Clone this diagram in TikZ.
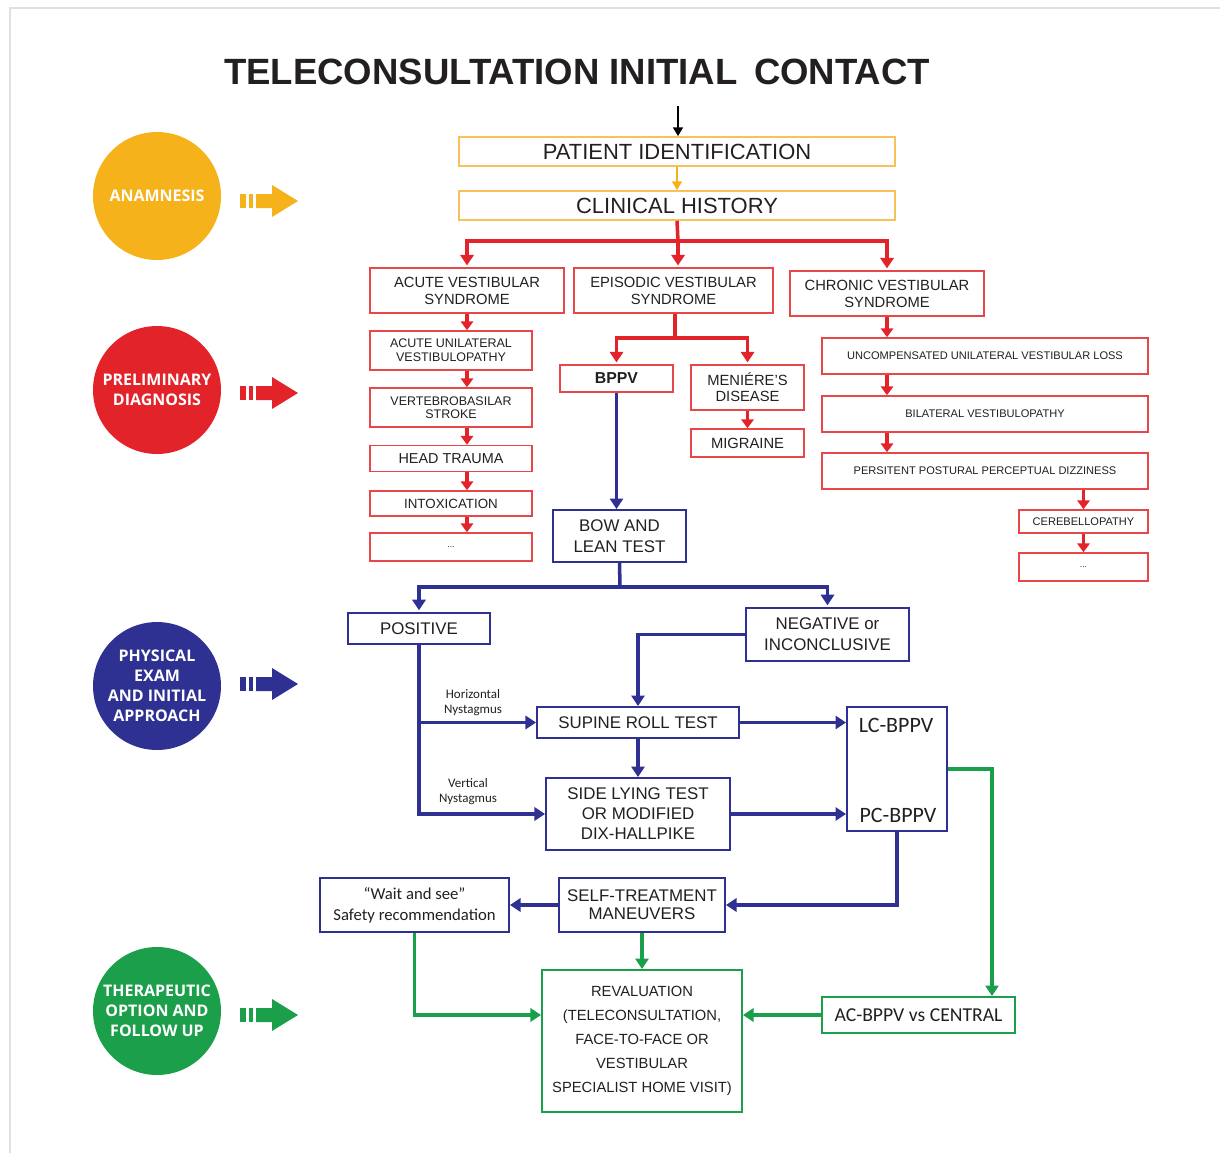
\documentclass[tikz,border=0pt]{standalone}
\usepackage{fontspec}
\setmainfont{Liberation Sans}
\newfontfamily\calfont{Carlito}
\newfontfamily\circfont{Open Sans}
\usetikzlibrary{arrows.meta}

\definecolor{anamorange}{HTML}{F6B21B}
\definecolor{boxorange}{HTML}{F7C25A}
\definecolor{diagred}{HTML}{E3232A}
\definecolor{boxred}{HTML}{E8474A}
\definecolor{exblue}{HTML}{2E3192}
\definecolor{therapgreen}{HTML}{1C9F4B}
\definecolor{inktext}{HTML}{231F20}

\tikzset{
    sz/.style 2 args={minimum width=#1*0.02cm, minimum height=#2*0.02cm},
    flowbox/.style={draw, rectangle, inner sep=0pt, align=center, text=inktext, line width=0.9pt},
    obox/.style={flowbox, draw=boxorange},
    rbox/.style={flowbox, draw=boxred},
    bbox/.style={flowbox, draw=exblue, line width=1.1pt},
    gbox/.style={flowbox, draw=therapgreen, line width=1.1pt},
    phasecirc/.style={circle, inner sep=0pt, minimum size=2.56cm, text=white, align=center,
        font=\circfont\bfseries\fontsize{9.1}{11.4}\selectfont},
    bigtip/.style={-{Triangle[length=6pt,width=7.5pt]}},
    smalltip/.style={-{Triangle[length=5pt,width=7pt]}},
    redline/.style={draw=diagred, line width=2pt},
    redsmall/.style={draw=diagred, line width=1.9pt, smalltip},
    blueline/.style={draw=exblue, line width=2pt},
    greenline/.style={draw=therapgreen, line width=2pt}
}

\begin{document}
\begin{tikzpicture}[x=0.02cm, y=-0.02cm]
        %\draw[color=lightgray] (0, 0) grid[step=100] (1220, 1153);
        \useasboundingbox (0, 0) rectangle (1220, 1153);
        \draw[black!12, line width=1.2pt] (10, 1153) -- (10, 8) -- (1220, 8);
        \node[text=inktext, font=\bfseries\fontsize{20.8}{25}\selectfont] (title) at (577, 72)
            {TELECONSULTATION INITIAL\hspace{.45em}CONTACT};
        % phases
        \node[phasecirc, fill=anamorange] (anam) at (157, 196) {ANAMNESIS};
        \node[phasecirc, fill=diagred] (prelim) at (157, 390) {PRELIMINARY\\DIAGNOSIS};
        \node[phasecirc, fill=exblue] (exam) at (157, 686) {PHYSICAL\\EXAM\\AND INITIAL\\APPROACH};
        \node[phasecirc, fill=therapgreen] (therap) at (157, 1011) {THERAPEUTIC\\OPTION AND\\FOLLOW UP};
        \foreach \c/\y in {anamorange/201, diagred/393, exblue/684, therapgreen/1015} {
            \fill[\c] (240, \y-7) rectangle (246, \y+7);
            \fill[\c] (249, \y-7) rectangle (253, \y+7);
            \fill[\c] (256, \y-7) -- (272, \y-7) -- (272, \y-16) -- (298, \y)
                -- (272, \y+16) -- (272, \y+7) -- (256, \y+7) -- cycle;
        }
        % anamnesis
        \node[obox, sz={436}{29}, font=\fontsize{12.5}{15}\selectfont] (patient) at (677, 151.5) {PATIENT IDENTIFICATION};
        \node[obox, sz={436}{29}, font=\fontsize{12.5}{15}\selectfont] (history) at (677, 205.5) {CLINICAL HISTORY};
        \coordinate (start) at (678, 106);
        \draw[line width=1.2pt, -{Triangle[length=5pt,width=5.5pt]}] (start) -- (start |- patient.north);
        \draw[draw=anamorange, line width=1.3pt, -{Triangle[length=5pt,width=5.5pt]}] (patient.south) -- (history.north);
        % syndromes
        \node[rbox, sz={194}{45}, font=\fontsize{8.4}{9.7}\selectfont] (acute) at (467, 290.5) {ACUTE VESTIBULAR\\SYNDROME};
        \node[rbox, sz={199}{45}, font=\fontsize{8.4}{9.7}\selectfont] (episodic) at (673.5, 290.5) {EPISODIC VESTIBULAR\\SYNDROME};
        \node[rbox, sz={194}{45}, font=\fontsize{8.4}{9.7}\selectfont] (chronic) at (887, 293.5) {CHRONIC VESTIBULAR\\SYNDROME};
        \coordinate (rsplit) at (678, 241);
        \draw[redline] (history.south) -- (rsplit);
        \draw[redline, bigtip] (rsplit) -| ([yshift=1pt]acute.north);
        \draw[redline, bigtip] (rsplit) -| ([yshift=1pt]chronic.north);
        \draw[redline, bigtip] (rsplit) -- ([yshift=1pt]rsplit |- episodic.north);
        % acute column
        \node[rbox, sz={162}{39}, font=\fontsize{7.1}{8}\selectfont] (unilat) at (451, 350.5) {ACUTE UNILATERAL\\VESTIBULOPATHY};
        \node[rbox, sz={162}{39}, font=\fontsize{7.1}{7.6}\selectfont] (stroke) at (451, 407.5) {VERTEBROBASILAR\\STROKE};
        \node[rbox, sz={162}{26}, font=\fontsize{8.2}{9}\selectfont] (trauma) at (451, 458.5) {HEAD TRAUMA};
        \node[rbox, sz={162}{25}, font=\fontsize{7.6}{9}\selectfont] (intox) at (451, 503.5) {INTOXICATION};
        \node[rbox, sz={162}{28}, font=\fontsize{5}{6}\selectfont] (dotsA) at (451, 547) {...};
        \foreach \a/\b in {acute/unilat, unilat/stroke, stroke/trauma, trauma/intox, intox/dotsA}
            \draw[redsmall] (\a.south -| acute.south) -- (\b.north -| acute.south);
        % episodic column
        \node[rbox, sz={113}{27}, font=\bfseries\fontsize{9}{10}\selectfont] (bppv) at (616.5, 378.5) {BPPV};
        \node[rbox, sz={113}{45}, font=\fontsize{8.4}{9.1}\selectfont] (meniere) at (747.5, 387.5) {MENIÉRE’S\\DISEASE};
        \node[rbox, sz={113}{28}, font=\fontsize{8.4}{9.1}\selectfont] (migraine) at (747.5, 443) {MIGRAINE};
        \coordinate (esplit) at (675, 338);
        \draw[redline] (episodic.south -| esplit) -- (esplit);
        \draw[redline, bigtip] (esplit) -| ([yshift=1pt]bppv.north);
        \draw[redline, bigtip] (esplit) -| ([yshift=1pt]meniere.north);
        \draw[redsmall] (meniere.south) -- (migraine.north);
        % chronic column
        \node[rbox, sz={326}{36}, font=\fontsize{6.3}{7}\selectfont] (uncomp) at (985, 356) {UNCOMPENSATED UNILATERAL VESTIBULAR LOSS};
        \node[rbox, sz={326}{36}, font=\fontsize{6.3}{7}\selectfont] (bilat) at (985, 414) {BILATERAL VESTIBULOPATHY};
        \node[rbox, sz={326}{36}, font=\fontsize{6.3}{7}\selectfont] (pppd) at (985, 471) {PERSITENT POSTURAL PERCEPTUAL DIZZINESS};
        \node[rbox, sz={129}{23}, font=\fontsize{6.3}{7}\selectfont] (cereb) at (1083.5, 521.5) {CEREBELLOPATHY};
        \node[rbox, sz={129}{28}, font=\fontsize{5}{6}\selectfont] (dotsC) at (1083.5, 567) {...};
        \foreach \a/\b in {chronic/uncomp, uncomp/bilat, bilat/pppd}
            \draw[redsmall] (\a.south -| chronic.south) -- (\b.north -| chronic.south);
        \draw[redsmall] (pppd.south -| cereb.north) -- (cereb.north);
        \draw[redsmall] (cereb.south) -- (dotsC.north);
        % physical exam
        \node[bbox, sz={133}{52}, font=\fontsize{9.6}{12}\selectfont] (bow) at (619.5, 536) {BOW AND\\LEAN TEST};
        \draw[blueline, bigtip] (bppv.south) -- (bppv.south |- bow.north);
        \node[bbox, sz={142}{31}, font=\fontsize{9.6}{12}\selectfont] (positive) at (419, 628.5) {POSITIVE};
        \node[bbox, sz={163}{53}, font=\fontsize{9.6}{12}\selectfont] (negative) at (827.5, 634.5) {NEGATIVE or\\INCONCLUSIVE};
        \coordinate (bsplit) at (620, 587);
        \draw[blueline] (bow.south) -- (bsplit);
        \draw[blueline, bigtip] (bsplit) -| ([yshift=1pt]positive.north);
        \draw[blueline, bigtip] (bsplit) -| ([yshift=1pt]negative.north);
        \node[bbox, sz={202}{31}, font=\fontsize{9.6}{12}\selectfont] (supine) at (638, 722.5) {SUPINE ROLL TEST};
        \node[bbox, sz={184}{72}, font=\fontsize{9.6}{11.4}\selectfont] (side) at (638, 814) {SIDE LYING TEST\\OR MODIFIED\\DIX-HALLPIKE};
        \node[bbox, sz={100}{124}] (lcpc) at (897, 769) {};
        \node[text=inktext, font=\calfont\fontsize{12.5}{14}\selectfont] (lc) at (896, 725) {LC-BPPV};
        \node[text=inktext, font=\calfont\fontsize{12.5}{14}\selectfont] (pc) at (898, 815) {PC-BPPV};
        \draw[blueline, bigtip] (negative.west) -| (supine.north);
        \draw[blueline, bigtip] (positive.south) |- (side.west);
        \draw[blueline, bigtip] (positive.south |- supine.west) -- (supine.west);
        \node[text=inktext, align=center, font=\calfont\fontsize{7.4}{8.5}\selectfont] (hnyst) at (473, 703) {Horizontal\\Nystagmus};
        \node[text=inktext, align=center, font=\calfont\fontsize{7.4}{8.5}\selectfont] (vnyst) at (468, 792) {Vertical\\Nystagmus};
        \draw[blueline, bigtip] (supine.south) -- (side.north);
        \draw[blueline, bigtip] (supine.east) -- (supine.east -| lcpc.west);
        \draw[blueline, bigtip] (side.east) -- (side.east -| lcpc.west);
        % therapeutic option
        \node[bbox, sz={166}{54}, font=\fontsize{9.6}{10.2}\selectfont] (self) at (642, 905) {SELF-TREATMENT\\MANEUVERS};
        \node[bbox, sz={189}{54}, font=\calfont\fontsize{9.5}{12}\selectfont] (wait) at (414.5, 905) {“Wait and see”\\Safety recommendation};
        \node[gbox, sz={200}{142}, font=\fontsize{8.4}{13.7}\selectfont] (reval) at (642, 1041)
            {REVALUATION\\(TELECONSULTATION,\\FACE-TO-FACE OR\\VESTIBULAR\\SPECIALIST HOME VISIT)};
        \node[gbox, sz={193}{36}, font=\calfont\fontsize{11.2}{13}\selectfont] (acbppv) at (918.5, 1015) {AC-BPPV vs CENTRAL};
        \draw[blueline, bigtip] (lcpc.south) |- (self.east);
        \draw[blueline, bigtip] (self.west) -- (wait.east);
        \coordinate (gcorner) at (992, 769);
        \draw[greenline, bigtip] (lcpc.east) -- (gcorner) -- (gcorner |- acbppv.north);
        \draw[greenline, bigtip] (self.south) -- (reval.north);
        \draw[greenline, bigtip] (wait.south) |- (reval.west |- acbppv.west);
        \draw[greenline, bigtip] (acbppv.west) -- (acbppv.west -| reval.east);
\end{tikzpicture}
\end{document}
